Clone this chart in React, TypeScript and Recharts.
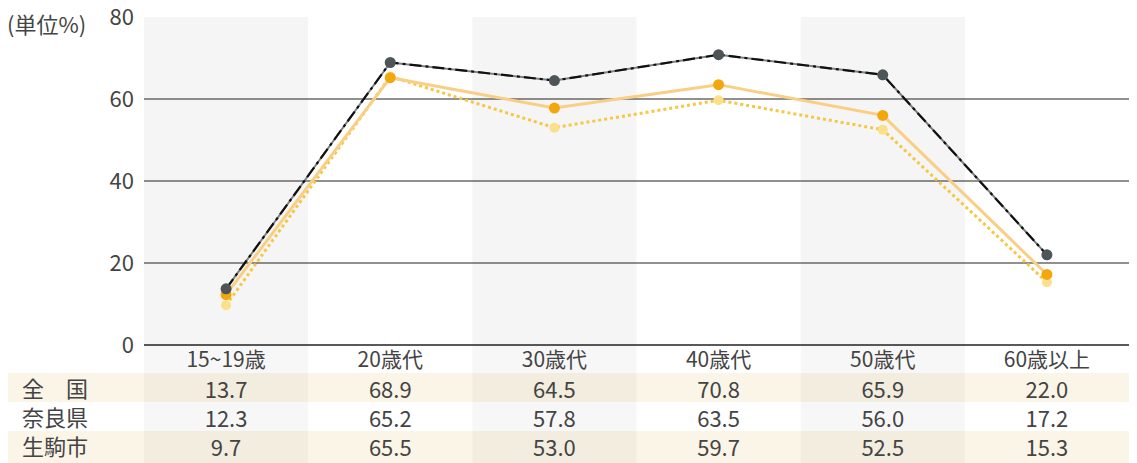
import React from 'react';
import { LineChart, Line, XAxis, YAxis, ReferenceArea, ReferenceLine } from 'recharts';

const categories = ['15~19歳', '20歳代', '30歳代', '40歳代', '50歳代', '60歳以上'];
const zenkoku = [13.7, 68.9, 64.5, 70.8, 65.9, 22.0];
const nara = [12.3, 65.2, 57.8, 63.5, 56.0, 17.2];
const ikoma = [9.7, 65.5, 53.0, 59.7, 52.5, 15.3];
const rowLabels = ['全　国', '奈良県', '生駒市'];
const yTicks = [0, 20, 40, 60, 80];
const gridValues = [20, 40, 60];

const data = categories.map((name, i) => ({
  name,
  zenkoku: zenkoku[i],
  nara: nara[i],
  ikoma: ikoma[i],
}));
const rows = [zenkoku, nara, ikoma];

const W = 1137;
const H = 463;
const LEFT = 144;
const RIGHT = 8;
const BAND = (W - LEFT - RIGHT) / categories.length;
const FONT = '"Noto Sans CJK JP", "Noto Sans", sans-serif';
const TEXT = '#444';
const BEIGE = '#faf5e7';
const ROW_TOP = 373;
const ROW_H = 29;

// category label + the three table values under each column
const TableTick = (props: any) => {
  const { x, y, payload } = props;
  const i = payload.index;
  const shaded = i % 2 === 0;
  return (
    <g>
      {shaded && <rect x={x - BAND / 2} y={y} width={BAND} height={H - y} fill="rgba(0,0,0,0.03)" />}
      <text x={x} y={y + 13} textAnchor="middle" dominantBaseline="central" fontSize={21} fill={TEXT} fontFamily={FONT}>
        {payload.value}
      </text>
      {rows.map((r, k) => (
        <text key={k} x={x} y={ROW_TOP + ROW_H / 2 + k * ROW_H} textAnchor="middle" dominantBaseline="central" fontSize={22} fill={TEXT} fontFamily={FONT}>
          {r[i].toFixed(1)}
        </text>
      ))}
    </g>
  );
};

export default function App() {
  return (
    <div style={{ position: 'relative', width: W, height: H, margin: '-8px 0 0 -8px', background: '#fff', fontFamily: FONT, overflow: 'hidden' }}>
      {/* beige table rows */}
      <div style={{ position: 'absolute', left: 0, top: ROW_TOP, width: W, height: ROW_H, background: BEIGE }} />
      <div style={{ position: 'absolute', left: 0, top: ROW_TOP + 2 * ROW_H, width: W, height: H - ROW_TOP - 2 * ROW_H, background: BEIGE }} />
      <div style={{ position: 'absolute', left: 0, top: 0 }}>
        <LineChart width={W} height={H} data={data} margin={{ top: 17, right: RIGHT, bottom: 0, left: 84 }}>
          {categories.map((c, i) =>
            i % 2 === 0 ? (
              <ReferenceArea key={c} x1={c} x2={c} fill="#f5f5f5" fillOpacity={1} stroke="none" />
            ) : null
          )}
          {gridValues.map((v) => (
            <ReferenceLine key={v} y={v} stroke="#222" strokeWidth={1.2} />
          ))}
          <XAxis
            dataKey="name"
            scale="band"
            axisLine={{ stroke: '#222', strokeWidth: 1.5 }}
            tickLine={false}
            tickSize={0}
            tickMargin={0}
            interval={0}
            height={H - 345}
            tick={<TableTick />}
          />
          <YAxis
            domain={[0, 80]}
            ticks={yTicks}
            axisLine={false}
            tickLine={false}
            tickSize={0}
            tickMargin={10}
            width={60}
            tick={{ fontSize: 22, fill: TEXT, fontFamily: FONT }}
          />
          <Line dataKey="ikoma" stroke="#f6c744" strokeWidth={3} strokeDasharray="3 3" dot={{ r: 5, fill: '#fbe08c', stroke: 'none' }} activeDot={false} isAnimationActive={false} />
          <Line dataKey="nara" stroke="#f8cf85" strokeWidth={3} dot={{ r: 5.5, fill: '#f2a80c', stroke: 'none' }} activeDot={false} isAnimationActive={false} />
          <Line dataKey="zenkoku" stroke="#7b8083" strokeWidth={2} dot={false} activeDot={false} isAnimationActive={false} />
          <Line dataKey="zenkoku" stroke="#111" strokeWidth={2.2} strokeDasharray="12 4 3 4" dot={{ r: 5.5, fill: '#4d5558', stroke: 'none' }} activeDot={false} isAnimationActive={false} />
        </LineChart>
      </div>
      <div style={{ position: 'absolute', left: 7, top: 8, fontSize: 22, color: TEXT, lineHeight: '30px' }}>(単位%)</div>
      {rowLabels.map((l, k) => (
        <div key={l} style={{ position: 'absolute', left: 22, top: ROW_TOP + k * ROW_H, fontSize: 22, color: TEXT, lineHeight: `${ROW_H}px` }}>
          {l}
        </div>
      ))}
    </div>
  );
}
